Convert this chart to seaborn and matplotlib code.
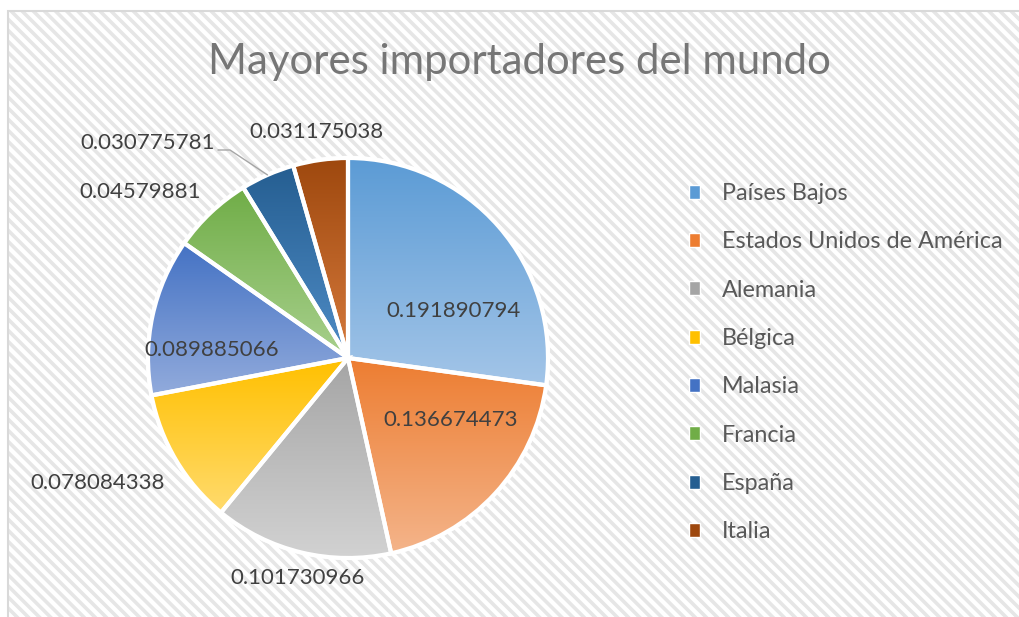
import numpy as np
import matplotlib
matplotlib.use("Agg")
import matplotlib.pyplot as plt
from matplotlib.colors import LinearSegmentedColormap
from matplotlib.patches import Rectangle, Patch, Wedge
import seaborn as sns

# datos
paises = ["Países Bajos", "Estados Unidos de América", "Alemania", "Bélgica",
          "Malasia", "Francia", "España", "Italia"]
valores = [0.191890794, 0.136674473, 0.101730966, 0.078084338,
           0.089885066, 0.04579881, 0.030775781, 0.031175038]
etiquetas = ["0.191890794", "0.136674473", "0.101730966", "0.078084338",
             "0.089885066", "0.04579881", "0.030775781", "0.031175038"]

# colores degradado (arriba, abajo)
color_arriba = ["#5b9bd5", "#ed7d31", "#a5a5a5", "#ffc000",
                "#4472c4", "#70ad47", "#255e91", "#9e480e"]
color_abajo = ["#a3c5e8", "#f4b48a", "#d2d2d2", "#ffdb6e",
               "#92abdc", "#a8d08d", "#4f8cc6", "#d67a3c"]

# posiciones de las etiquetas (unidades del radio)
pos_etiquetas = [(0.525, 0.235), (0.515, -0.31), (-0.25, -1.10), (-1.25, -0.625),
                 (-0.68, 0.04), (-1.04, 0.83), (-1.00, 1.075), (-0.16, 1.13)]

sns.set_theme(style="white")
plt.rcParams['font.family'] = ['Lato', 'DejaVu Sans']
plt.rcParams['hatch.linewidth'] = 2.6

W, H = 1019, 617
fig = plt.figure(figsize=(W / 100, H / 100), dpi=100)
fig.patch.set_facecolor("white")

# fondo rayado
fondo = Rectangle((8 / W, -0.1), 1.1, 1.1 - 11 / H, transform=fig.transFigure,
                  facecolor="white", edgecolor="#e6e6e6", hatch="\\\\\\", linewidth=0, zorder=-2)
fig.patches.append(fondo)
borde = Rectangle((8 / W, -0.1), 1.1, 1.1 - 11 / H, transform=fig.transFigure,
                  facecolor="none", edgecolor="#d9d9d9", linewidth=1.5, zorder=-1)
fig.patches.append(borde)

cx, cy, r = 348, H - 358, 200
ax = fig.add_axes([(cx - 1.1 * r) / W, (cy - 1.1 * r) / H, 2.2 * r / W, 2.2 * r / H])
ax.set_facecolor("none")

wedges, _ = ax.pie(valores, startangle=90, counterclock=False, radius=1,
                   wedgeprops=dict(edgecolor="white", linewidth=3))

grad = np.linspace(0, 1, 256).reshape(-1, 1)
for w, c1, c2 in zip(wedges, color_arriba, color_abajo):
    ext = w.get_path().get_extents()
    cmap = LinearSegmentedColormap.from_list("g", [c1, c2])
    im = ax.imshow(grad, cmap=cmap, extent=(ext.x0, ext.x1, ext.y0, ext.y1),
                   origin="upper", aspect="auto", zorder=2)
    im.set_clip_path(w)
    ax.add_patch(Wedge(w.center, w.r, w.theta1, w.theta2, facecolor="none",
                       edgecolor="white", linewidth=3, zorder=3))

for txt, (x, y) in zip(etiquetas, pos_etiquetas):
    ax.text(x, y, txt, ha="center", va="center", fontsize=16, color="#404040", zorder=5)

# linea guia para España
w = wedges[6]
ang = np.deg2rad((w.theta1 + w.theta2) / 2)
ax.plot([-0.65, -0.59, np.cos(ang)], [1.04, 1.04, np.sin(ang)],
        color="#a6a6a6", linewidth=1, zorder=4, clip_on=False)

ax.set_xlim(-1.1, 1.1)
ax.set_ylim(-1.1, 1.1)
ax.axis("off")

handles = [Patch(facecolor=c) for c in color_arriba]
fig.legend(handles, paises, loc="upper left", bbox_to_anchor=(668 / W, 1 - 162 / H),
           frameon=False, fontsize=16.8, handlelength=0.45, handleheight=0.55,
           handletextpad=0.95, labelspacing=1.17, labelcolor="#595959")

fig.text(519 / W, 1 - 62 / H, "Mayores importadores del mundo", ha="center", va="center",
         fontsize=30.2, color="#767676")

fig.savefig("out.png", dpi=100)
